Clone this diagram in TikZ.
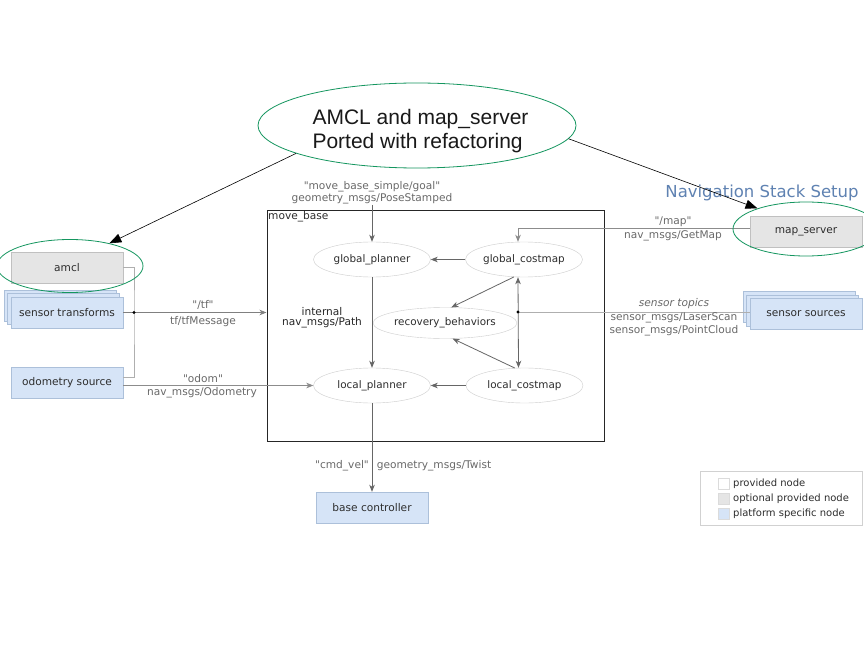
\documentclass[tikz,border=0pt]{standalone}
\usepackage{fontspec}
\setmainfont{DejaVu Sans}
\newfontfamily\dvq{DejaVu Sans}
\newfontfamily\arialfont{Liberation Sans}
\usetikzlibrary{shapes.geometric,arrows.meta,calc}
\definecolor{ringgreen}{RGB}{20,150,95}
\definecolor{pbfill}{RGB}{214,228,247}
\definecolor{pbdraw}{RGB}{172,192,218}
\definecolor{optfill}{RGB}{229,229,229}
\definecolor{optdraw}{RGB}{192,192,192}
\definecolor{elldraw}{RGB}{205,205,205}
\definecolor{labelgray}{RGB}{105,105,105}
\definecolor{linegray}{RGB}{175,175,175}
\definecolor{titleblue}{RGB}{95,130,178}
\definecolor{nodetext}{RGB}{45,45,45}
\tikzset{
  box/.style={draw, rectangle, minimum width=112pt, minimum height=31pt, inner sep=0pt,
    font=\dvq\fontsize{10.6}{12}\selectfont, text=nodetext},
  pbox/.style={box, fill=pbfill, draw=pbdraw},
  obox/.style={box, fill=optfill, draw=optdraw},
  ell/.style={draw=elldraw, ellipse, fill=white, minimum width=117pt, minimum height=35pt,
    inner sep=0pt, font=\dvq\fontsize{10.4}{12}\selectfont, text=nodetext},
  ring/.style={draw=ringgreen, ellipse, inner sep=0pt, line width=0.8pt},
  lbl/.style={font=\dvq\fontsize{10.6}{12}\selectfont, text=labelgray, inner sep=0pt},
  arr/.style={draw=black!60, line width=0.8pt, -{Stealth[length=7pt,width=5.5pt,inset=2pt]}},
  darr/.style={draw=black!60, line width=0.8pt, {Stealth[length=7pt,width=5.5pt,inset=2pt]}-{Stealth[length=7pt,width=5.5pt,inset=2pt]}},
  bigarr/.style={draw=black, line width=0.6pt, -{Triangle[length=12pt,width=9pt]}},
  thinline/.style={draw=linegray, line width=0.8pt},
  legsq/.style={draw=black!14, minimum width=11pt, minimum height=11pt, inner sep=0pt},
  legtxt/.style={anchor=west, inner sep=0pt, font=\dvq\fontsize{10}{12}\selectfont, text=nodetext}
}
\begin{document}
\begin{tikzpicture}[x=1pt,y=-1pt]
\useasboundingbox (0,0) rectangle (864,668);
\clip (0,0) rectangle (864,668);
\fill[white] (0,0) rectangle (864,668);

% move_base container
\node[draw=black!85, line width=1pt, minimum width=337pt, minimum height=231pt, inner sep=0pt] (mb) at (435.5,326) {};
\node[anchor=north west, inner sep=1.5pt, font=\dvq\fontsize{10.6}{12}\selectfont, text=nodetext] (mblabel) at (mb.north west) {move\_base};

% internal nodes
\node[ell] (gp) at (372,259.5) {global\_planner};
\node[ell] (gc) at (524,259.5) {global\_costmap};
\node[ell, minimum height=31pt] (rb) at (445,323) {recovery\_behaviors};
\node[ell] (lp) at (372,385.5) {local\_planner};
\node[ell] (lc) at (524.5,385.5) {local\_costmap};

% external nodes
\node[obox] (amcl) at (67,267.5) {amcl};
\node[pbox] (st3) at (60,305.5) {};
\node[pbox] (st2) at (63.5,309) {};
\node[pbox] (st) at (67,312.5) {sensor transforms};
\node[pbox] (odom) at (67,382.5) {odometry source};
\node[obox] (ms) at (806,231.5) {map\_server};
\node[pbox] (ss3) at (799,307) {};
\node[pbox] (ss2) at (802.5,310.5) {};
\node[pbox] (ss) at (806,314) {sensor sources};
\node[pbox] (bc) at (372,507.5) {base controller};

% title
\node[font=\dvq\fontsize{16.5}{18}\selectfont, text=titleblue, inner sep=0pt] (title) at (762,193) {Navigation Stack Setup};

% left bus (amcl / tf / odom)
\coordinate (tfdot) at (134,312.5);
\draw[thinline] (amcl.east) -| (tfdot) |- ($(odom.east)+(0,-5)$);
\draw[arr, draw=black!50] (st.east) -- (st.east -| mb.west);
\fill[black] (tfdot) circle (1.6pt);
\node[lbl] (tflbl1) at (203,305) {"/tf"};
\node[lbl] (tflbl2) at (203,321.5) {tf/tfMessage};

% odom
\draw[arr, draw=black!45] (odom.east |- lp.west) -- (lp.west);
\node[lbl] (odlbl1) at (203,379) {"odom"};
\node[lbl] (odlbl2) at (202,393) {nav\_msgs/Odometry};

% goal
\coordinate (goalsrc) at (372,205);
\draw[arr] (goalsrc) -- (gp.north);
\node[lbl] (goallbl1) at (372,187) {"move\_base\_simple/goal"};
\node[lbl] (goallbl2) at (372,198.5) {geometry\_msgs/PoseStamped};

% map
\draw[arr, draw=black!45] ($(ms.west)+(0,-3.5)$) -| ($(gc.north)+(-6,0)$);
\node[lbl] (maplbl1) at (673,222) {"/map"};
\node[lbl] (maplbl2) at (673,236) {nav\_msgs/GetMap};

% internal arrows
\draw[arr] (gc.west) -- (gp.east);
\draw[arr] (lc.west) -- (lp.east);
\draw[arr] (gc.240) -- (rb.68);
\draw[arr] (lc.119) -- (rb.-64);
\draw[arr] (gp.south) -- (lp.north);
\draw[darr] ($(gc.south)+(-6,0)$) -- ($(lc.north)+(-6,0)$);
\node[font=\dvq\fontsize{10.6}{12}\selectfont, text=black!85, align=center, inner sep=0pt] (pathlbl) at (322,317.5) {internal\\[-1.5pt]nav\_msgs/Path};

% sensor topics
\coordinate (sdot) at (518,312);
\draw[thinline] (sdot) -- (sdot -| ss.west);
\fill[black] (sdot) circle (1.6pt);
\node[lbl, font=\dvq\fontsize{10.6}{12}\selectfont\itshape] (senslbl1) at (674,304) {sensor topics};
\node[lbl] (senslbl2) at (674,318) {sensor\_msgs/LaserScan};
\node[lbl] (senslbl3) at (674,331) {sensor\_msgs/PointCloud};

% cmd_vel
\draw[arr] (lp.south) -- (bc.north);
\node[lbl] (cmdlbl1) at (342,466) {"cmd\_vel"};
\node[lbl] (cmdlbl2) at (434,466) {geometry\_msgs/Twist};

% legend
\node[draw=black!18, minimum width=162pt, minimum height=54pt, inner sep=0pt] (legend) at (781,498) {};
\node[legsq, fill=white] (lg1) at (723.5,484) {};
\node[legsq, fill=optfill] (lg2) at (723.5,499) {};
\node[legsq, fill=pbfill] (lg3) at (723.5,514) {};
\node[legtxt] (lt1) at (733,484) {provided node};
\node[legtxt] (lt2) at (733,499) {optional provided node};
\node[legtxt] (lt3) at (733,514) {platform specific node};

% annotation
\node[ring, minimum width=318pt, minimum height=85pt] (note) at (417,125.5) {};
\node[align=left, inner sep=0pt, font=\arialfont\fontsize{21}{24.5}\selectfont, text=black!90] (notetext) at (420.5,131)
  {AMCL and map\_server\\Ported with refactoring};
\node[ring, minimum width=146pt, minimum height=53pt] (amclring) at (70,266) {};
\node[ring, minimum width=146pt, minimum height=54pt] (msring) at (806,229) {};
\draw[bigarr] (note.193) -- (amclring.30);
\draw[bigarr] (note.-5) -- (msring.157);
\end{tikzpicture}
\end{document}
